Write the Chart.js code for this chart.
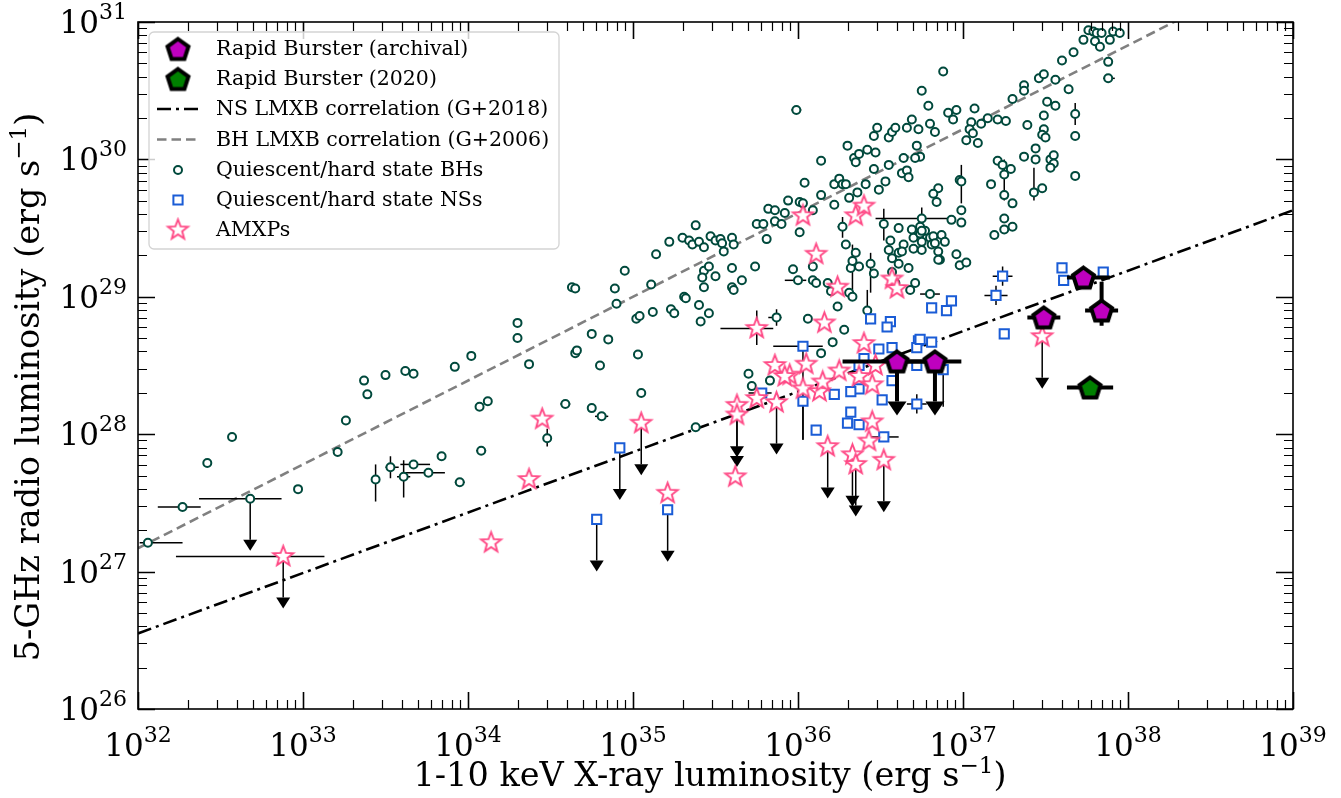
<!DOCTYPE html>
<html>
<head>
<meta charset="utf-8">
<script src="https://cdn.jsdelivr.net/npm/chart.js@4.4.1/dist/chart.umd.min.js"></script>
<style>
  html, body { margin: 0; padding: 0; background: #fff; }
  #wrap { width: 1341px; height: 798px; position: relative; }
</style>
</head>
<body>
<div id="wrap"><canvas id="chart"></canvas></div>
<script>
// values are log10 of luminosity: [log Lx, log Lr]
const bhPoints = [
  [32.42,27.79],[32.57,27.98],[32.97,27.60],[33.21,27.87],[33.26,28.10],[33.37,28.39],[33.39,28.29],[33.50,28.43],[33.62,28.46],[33.67,28.44],[33.84,27.84],[33.92,28.49],[34.02,28.57],[34.12,28.24],[34.30,28.81],[34.30,28.70],[34.37,28.51],[34.63,29.07],[34.65,29.06],[34.65,28.59],[34.66,28.61],
  [34.75,28.73],[34.85,28.69],[34.89,29.06],[34.90,28.95],[34.95,29.19],[35.02,28.84],[35.04,28.86],[35.11,29.09],[35.12,28.89],[35.14,29.31],[35.22,29.40],[35.23,28.91],[35.25,28.88],[35.30,29.43],[35.31,29.00],[35.32,28.99],[35.34,29.41],[35.36,29.38],[35.38,29.52],[35.40,28.94],[35.40,29.40],[35.41,28.82],[35.43,29.36],[35.43,29.19],[35.42,29.14],[35.43,29.07],[35.46,29.22],[35.46,28.88],[35.47,29.44],[35.50,29.15],[35.50,29.41],[35.53,29.42],[35.54,29.39],[35.55,29.33],[35.60,29.43],[35.61,29.38],[35.60,29.21],[35.60,29.07],[35.61,29.05],[35.66,29.12],[35.74,29.22],[35.75,29.53],[35.79,29.53],[35.81,29.42],[35.82,29.64],[35.86,29.63],[35.86,29.55],[35.92,29.61],[35.90,29.53],
  [35.03,28.58],[34.80,28.50],[34.75,28.19],[35.70,28.44],[35.72,28.35],[35.83,28.39],[36.06,28.84],[36.14,28.59],[36.21,28.67],[36.28,28.76],[36.24,28.93],
  [35.94,29.70],[36.01,29.69],[36.03,29.68],[36.09,29.63],[36.22,29.67],[36.01,29.47],[36.04,29.83],[36.14,29.74],[36.14,29.99],[36.22,29.82],[36.25,29.86],[36.27,29.82],[36.29,29.82],[36.31,29.72],[36.36,29.76],[36.41,29.82],[36.49,29.78],[36.53,29.84],
  [36.30,30.10],[36.34,30.01],[36.37,30.04],[36.42,30.07],[36.47,30.05],[36.35,29.98],[36.46,29.93],[36.55,29.96],[36.48,30.23],[36.46,30.17],[36.55,30.16],[36.57,30.20],[36.59,30.23],[36.64,30.01],[36.72,30.10],[36.74,30.02],[36.71,30.01],[36.63,29.90],[36.66,29.92],[36.67,29.87],
  [36.66,30.23],[36.69,30.29],[36.73,30.22],[36.75,30.50],[36.79,30.39],[36.80,30.26],[36.83,30.20],[36.88,30.64],[36.91,30.34],[36.94,30.29],[36.96,30.36],
  [36.85,29.79],[36.82,29.75],[36.84,29.69],[36.98,29.85],[36.93,29.56],[36.99,29.63],[36.99,29.54],
  [37.07,30.37],[37.05,30.27],[37.04,30.22],[37.06,30.19],[37.02,30.14],[37.09,30.12],[37.11,30.26],[37.15,30.30],[37.21,30.29],[37.26,30.28],[37.30,30.44],[37.37,30.54],[37.37,30.50],[37.46,30.59],[37.49,30.62],[37.56,30.58],[37.60,30.72],[37.67,30.78],[37.64,30.51],[37.73,30.87],[37.76,30.94],[37.79,30.93],[37.81,30.92],[37.84,30.92],[37.80,30.86],[37.83,30.82],[37.89,30.87],[37.91,30.93],[37.95,30.92],[37.88,30.71],
  [37.39,30.25],[37.51,30.42],[37.56,30.39],[37.49,30.32],[37.49,30.22],[37.48,30.18],[37.50,30.16],[37.44,30.08],[37.44,30.00],[37.37,30.02],[37.48,29.79],[37.53,30.00],[37.55,30.03],[37.55,29.97],[37.53,29.94],[37.68,30.17],[37.68,29.88],
  [37.21,29.99],[37.24,29.96],[37.29,29.93],[37.17,29.82],[37.25,29.74],[37.30,29.68],[37.25,29.57],[37.25,29.49],[37.30,29.51],[37.19,29.45],
  [36.29,29.38],[36.35,29.32],[36.32,29.21],[36.37,29.22],[35.97,29.20],[36.09,29.22],[36.09,29.12],[36.11,29.10],[36.18,29.10],[36.20,29.04],[36.31,29.03],[36.33,29.00],
  [36.56,29.41],[36.55,29.34],[36.57,29.28],[36.57,29.18],[36.61,29.32],[36.61,29.50],[36.61,29.24],[36.64,29.38],[36.63,29.33],[36.69,29.49],[36.70,29.43],[36.70,29.35],[36.67,29.21],[36.71,29.10],[36.68,29.05],[36.74,29.51],[36.74,29.46],[36.75,29.40],[36.75,29.34],[36.77,29.48],[36.80,29.43],[36.81,29.38],[36.82,29.44],[36.83,29.39],[36.85,29.33],[36.86,29.27],[36.87,29.45],[36.89,29.40],[36.85,29.27],[36.98,29.23],[36.96,29.31],[37.02,29.25],[36.46,29.17],[36.59,29.10]
];
// with error bars: [log Lx, log Lr, xlo, xhi, ylo, yhi, upper limit]
const bhErrPoints = [
  [32.06,27.21, 32.01,32.27, null,null, 0],
  [32.27,27.47, 32.12,32.38, null,null, 0],
  [32.68,27.53, 32.37,32.87, null,null, 1],
  [33.44,27.67, null,null, 27.51,27.78, 0],
  [33.53,27.76, 33.50,33.58, 27.68,27.84, 0],
  [33.61,27.69, 33.57,33.65, 27.54,27.81, 0],
  [33.67,27.78, 33.59,33.77, null,null, 0],
  [33.76,27.72, 33.62,33.86, null,null, 0],
  [33.95,27.65, 33.92,33.98, null,null, 0],
  [34.08,27.88, 34.05,34.11, null,null, 0],
  [34.07,28.20, 34.05,34.09, null,null, 0],
  [34.48,27.97, null,null, 27.91,28.04, 0],
  [34.59,28.22, 34.56,34.62, null,null, 0],
  [34.81,28.13, 34.77,34.85, null,null, 0],
  [35.05,28.30, 35.03,35.07, null,null, 0],
  [35.38,28.05, 35.36,35.40, null,null, 0],
  [35.99,30.36, 35.96,36.02, null,null, 0],
  [35.87,28.85, 35.82,35.90, 28.79,28.91, 0],
  [36.00,29.12, 35.92,36.05, null,null, 0],
  [36.27,29.51, 36.24,36.29, 29.43,29.58, 0],
  [36.52,29.53, null,null, 29.41,29.64, 0],
  [36.75,29.48, null,null, 29.41,29.65, 0],
  [36.75,29.57, 36.47,36.95, null,null, 0],
  [36.99,29.84, null,null, 29.68,29.96, 0],
  [37.43,29.76, null,null, 29.70,29.94, 0],
  [37.25,29.89, null,null, 29.70,30.00, 0],
  [37.68,30.33, null,null, 30.25,30.41, 0],
  [37.88,30.59, 37.85,37.92, null,null, 0],
  [36.33,29.26, null,null, 29.05,29.38, 0],
  [36.44,29.24, null,null, 29.03,29.32, 0],
  [36.42,28.90, null,null, 28.80,29.05, 0],
  [36.80,29.02, 36.74,36.86, null,null, 0]
];
const nsPoints = [
  [36.81,28.92],[36.90,28.90],[36.93,28.97],[36.44,28.84],[36.56,28.82],[36.54,28.78],[36.73,28.68],[36.81,28.67],[36.72,28.63],[36.49,28.62],[36.57,28.63],[36.40,28.55],[36.37,28.50],[36.72,28.50],[36.57,28.39],[36.37,28.33],[36.32,28.31],[36.22,28.29],[36.51,28.25],[36.32,28.16],[36.30,28.08],[36.37,28.07],[36.11,28.03],[37.60,29.21],[37.61,29.12],[37.85,29.18],[37.25,28.73],[36.74,28.69]
];
const nsErrPoints = [
  [36.03,28.64, 35.85,36.15, 27.96,28.64, 0],
  [36.03,28.24, null,null, 27.96,28.24, 0],
  [35.78,28.30, 35.70,35.84, null,null, 0],
  [36.52,27.98, 36.44,36.61, null,null, 0],
  [36.72,28.22, 36.66,36.78, 28.15,28.29, 0],
  [37.24,29.15, 37.18,37.30, 29.08,29.22, 0],
  [37.20,29.01, 37.13,37.27, 28.94,29.08, 0],
  [36.88,28.47, null,null, 28.20,28.47, 0],
  [34.92,27.90, null,null, null,null, 1],
  [34.78,27.38, null,null, null,null, 1],
  [35.21,27.45, null,null, null,null, 1]
];
const amxpPoints = [
  [34.14,27.21],[34.37,27.67],[34.45,28.11],[35.21,27.57],[35.62,27.69],[35.75,28.26],[35.86,28.50],[35.95,28.43],[36.05,28.51],[36.03,28.33],[36.13,28.31],[36.15,28.38],[36.25,28.46],[36.37,28.42],[36.45,28.36],[36.40,28.66],[36.16,28.81],[36.11,29.31],[36.24,29.07],[36.57,29.13],[36.60,29.06],[36.03,29.59],[36.35,29.59],[36.40,29.66],[36.45,28.09],[36.43,27.95],[36.47,28.50],[35.92,28.42]
];
const amxpErrPoints = [
  [32.88,27.11, 32.23,33.13, null,null, 1],
  [35.05,28.08, null,null, null,null, 1],
  [35.63,28.21, null,null, null,null, 1],
  [35.63,28.14, null,null, null,null, 1],
  [35.87,28.23, null,null, null,null, 1],
  [35.75,28.77, 35.53,35.85, 28.65,28.90, 0],
  [36.18,27.91, null,null, null,null, 1],
  [36.33,27.85, null,null, null,null, 1],
  [36.35,27.78, null,null, null,null, 1],
  [36.52,27.81, null,null, null,null, 1],
  [37.48,28.71, null,null, null,null, 1]
];
const rbArchival = [
  [36.60,28.53, 36.27,36.85, null,null, 1],
  [36.83,28.53, 36.60,36.99, null,null, 1],
  [37.49,28.85, 37.39,37.59, null,null, 0],
  [37.73,29.14, 37.63,37.89, null,null, 0],
  [37.84,28.90, 37.74,37.94, 28.79,29.11, 0]
];
const rb2020 = [
  [37.77,28.34, 37.63,37.91, null,null, 0]
];
// correlation lines, endpoints at the axis limits
const nsCorr = [[32, 26.55], [39, 29.63]];
const bhCorr = [[32, 27.17], [39, 31.44]];
const xDecades = [32, 33, 34, 35, 36, 37, 38, 39];
const yDecades = [26, 27, 28, 29, 30, 31];

const legendLabels = [
  'Rapid Burster (archival)', 'Rapid Burster (2020)',
  'NS LMXB correlation (G+2018)', 'BH LMXB correlation (G+2006)',
  'Quiescent/hard state BHs', 'Quiescent/hard state NSs', 'AMXPs'
];

const BH_COLOR = '#00493c';
const NS_COLOR = '#1a5cd6';
const AMXP_COLOR = '#ff4a86';
const SERIF = '"DejaVu Serif", "Liberation Serif", serif';

function toPt(p) {
  const o = { x: Math.pow(10, p[0]), y: Math.pow(10, p[1]) };
  if (p.length > 2) {
    o.xlo = p[2] != null ? Math.pow(10, p[2]) : null;
    o.xhi = p[3] != null ? Math.pow(10, p[3]) : null;
    o.ylo = p[4] != null ? Math.pow(10, p[4]) : null;
    o.yhi = p[5] != null ? Math.pow(10, p[5]) : null;
    o.ul = !!p[6];
  }
  return o;
}

function makeStar(R, r, stroke, lw) {
  const c = document.createElement('canvas');
  const s = Math.ceil(2 * (R + lw)) + 2;
  c.width = s; c.height = s;
  const g = c.getContext('2d');
  g.translate(s / 2, s / 2);
  g.beginPath();
  for (let i = 0; i < 10; i++) {
    const rad = i % 2 === 0 ? R : r;
    const a = -Math.PI / 2 + i * Math.PI / 5;
    g.lineTo(rad * Math.cos(a), rad * Math.sin(a));
  }
  g.closePath();
  g.fillStyle = '#fff';
  g.fill();
  g.lineJoin = 'miter';
  g.lineWidth = lw;
  g.strokeStyle = stroke;
  g.stroke();
  return c;
}

function makePentagon(R, fill, lw) {
  const c = document.createElement('canvas');
  const s = Math.ceil(2 * (R + lw * 1.6)) + 2;
  c.width = s; c.height = s;
  const g = c.getContext('2d');
  g.translate(s / 2, s / 2 + 1);
  g.beginPath();
  for (let i = 0; i < 5; i++) {
    const a = -Math.PI / 2 + i * 2 * Math.PI / 5;
    g.lineTo(R * Math.cos(a), R * Math.sin(a));
  }
  g.closePath();
  g.fillStyle = fill;
  g.fill();
  g.lineJoin = 'miter';
  g.lineWidth = lw;
  g.strokeStyle = '#000';
  g.stroke();
  return c;
}

const starImg = makeStar(10.5, 4.4, AMXP_COLOR, 1.9);
const pentMag = makePentagon(11, '#bf00bf', 4);
const pentGreen = makePentagon(11, '#008000', 4);

// error bars and upper-limit arrows, drawn just under each dataset's markers
const errorBarPlugin = {
  id: 'errorBars',
  beforeDatasetDraw(chart, args) {
    const ds = chart.data.datasets[args.index];
    if (!ds.err) return;
    const { ctx, chartArea: a } = chart;
    const xs = chart.scales.x, ys = chart.scales.y;
    const st = ds.err;
    ctx.save();
    ctx.beginPath();
    ctx.rect(a.left, a.top, a.right - a.left, a.bottom - a.top);
    ctx.clip();
    ctx.strokeStyle = '#000';
    ctx.fillStyle = '#000';
    ctx.lineWidth = st.lw;
    ctx.lineCap = 'butt';
    for (const p of ds.data) {
      if (p.xlo == null && p.ylo == null && !p.ul) continue;
      const px = xs.getPixelForValue(p.x), py = ys.getPixelForValue(p.y);
      ctx.beginPath();
      if (p.xlo != null) {
        ctx.moveTo(xs.getPixelForValue(p.xlo), py);
        ctx.lineTo(xs.getPixelForValue(p.xhi), py);
      }
      if (p.ylo != null) {
        ctx.moveTo(px, ys.getPixelForValue(p.ylo));
        ctx.lineTo(px, ys.getPixelForValue(p.yhi));
      }
      if (p.ul) {
        ctx.moveTo(px, py);
        ctx.lineTo(px, py + st.arrow - st.headH);
      }
      ctx.stroke();
      if (p.ul) {
        const tip = py + st.arrow;
        ctx.beginPath();
        ctx.moveTo(px - st.headW / 2, tip - st.headH);
        ctx.lineTo(px + st.headW / 2, tip - st.headH);
        ctx.lineTo(px, tip);
        ctx.closePath();
        ctx.fill();
      }
    }
    ctx.restore();
  }
};

function drawPow(ctx, exp, x, base, align, big, small, raise) {
  ctx.font = big + 'px ' + SERIF;
  const w1 = ctx.measureText('10').width;
  ctx.font = small + 'px ' + SERIF;
  const w2 = ctx.measureText(String(exp)).width;
  const left = align === 'center' ? x - (w1 + w2) / 2 : x - (w1 + w2);
  ctx.textAlign = 'left';
  ctx.textBaseline = 'alphabetic';
  ctx.font = big + 'px ' + SERIF;
  ctx.fillText('10', left, base);
  ctx.font = small + 'px ' + SERIF;
  ctx.fillText(String(exp), left + w1, base - raise);
}

function drawLabel(ctx, main, sup, tail, cx, base, big, small, raise) {
  ctx.font = big + 'px ' + SERIF;
  const w1 = ctx.measureText(main).width;
  const w3 = ctx.measureText(tail).width;
  ctx.font = small + 'px ' + SERIF;
  const w2 = ctx.measureText(sup).width;
  let x = cx - (w1 + w2 + w3) / 2;
  ctx.textAlign = 'left';
  ctx.textBaseline = 'alphabetic';
  ctx.font = big + 'px ' + SERIF;
  ctx.fillText(main, x, base);
  x += w1;
  ctx.font = small + 'px ' + SERIF;
  ctx.fillText(sup, x, base - raise);
  x += w2;
  ctx.font = big + 'px ' + SERIF;
  ctx.fillText(tail, x, base);
}

const frameAndLegendPlugin = {
  id: 'frameAndLegend',
  afterDraw(chart) {
    const { ctx, chartArea: a } = chart;
    const xs = chart.scales.x, ys = chart.scales.y;
    ctx.save();
    ctx.fillStyle = '#000';
    ctx.strokeStyle = '#000';

    // ticks on all four sides, pointing inward
    const ticks = (vals, isMajor) => {
      ctx.lineWidth = isMajor ? 1.6 : 1.2;
      const len = isMajor ? 17 : 9;
      ctx.beginPath();
      for (const v of vals.x) {
        const px = Math.round(xs.getPixelForValue(v)) + 0.5;
        ctx.moveTo(px, a.bottom); ctx.lineTo(px, a.bottom - len);
        ctx.moveTo(px, a.top); ctx.lineTo(px, a.top + len);
      }
      for (const v of vals.y) {
        const py = Math.round(ys.getPixelForValue(v)) + 0.5;
        ctx.moveTo(a.left, py); ctx.lineTo(a.left + len, py);
        ctx.moveTo(a.right, py); ctx.lineTo(a.right - len, py);
      }
      ctx.stroke();
    };
    const minorX = [], minorY = [];
    xDecades.slice(0, -1).forEach(d => { for (let k = 2; k < 10; k++) minorX.push(k * Math.pow(10, d)); });
    yDecades.slice(0, -1).forEach(d => { for (let k = 2; k < 10; k++) minorY.push(k * Math.pow(10, d)); });
    ticks({ x: minorX, y: minorY }, false);
    ticks({ x: xDecades.map(d => Math.pow(10, d)), y: yDecades.map(d => Math.pow(10, d)) }, true);

    // frame
    ctx.lineWidth = 1.6;
    ctx.strokeRect(a.left, a.top, a.right - a.left, a.bottom - a.top);

    // tick labels
    xDecades.forEach(d => {
      drawPow(ctx, d, xs.getPixelForValue(Math.pow(10, d)), a.bottom + 47, 'center', 31, 22, 14);
    });
    yDecades.forEach(d => {
      drawPow(ctx, d, a.left - 11, ys.getPixelForValue(Math.pow(10, d)) + 11, 'right', 31, 22, 14);
    });

    // axis titles
    drawLabel(ctx, '1-10 keV X-ray luminosity (erg s', '\u22121', ')', 710, 786, 33.5, 23, 13);
    ctx.save();
    ctx.translate(39, 387);
    ctx.rotate(-Math.PI / 2);
    drawLabel(ctx, '5-GHz radio luminosity (erg s', '\u22121', ')', 0, 0, 33.5, 23, 13);
    ctx.restore();

    // legend
    const lx = 149, ly = 32, lw = 410, lh = 217;
    ctx.beginPath();
    ctx.roundRect(lx, ly, lw, lh, 5);
    ctx.fillStyle = 'rgba(255,255,255,0.8)';
    ctx.fill();
    ctx.lineWidth = 1.3;
    ctx.strokeStyle = '#d3d3d3';
    ctx.stroke();
    const rows = [49, 79, 109, 139.5, 170, 200, 230];
    const mx = 178, tx = 216;
    ctx.drawImage(pentMag, mx - pentMag.width / 2, rows[0] - pentMag.height / 2);
    ctx.drawImage(pentGreen, mx - pentGreen.width / 2, rows[1] - pentGreen.height / 2);
    ctx.lineWidth = 2.6;
    ctx.strokeStyle = '#000';
    ctx.setLineDash([14, 5, 3, 5]);
    ctx.beginPath(); ctx.moveTo(157, rows[2]); ctx.lineTo(199, rows[2]); ctx.stroke();
    ctx.strokeStyle = '#808080';
    ctx.setLineDash([9.5, 5]);
    ctx.beginPath(); ctx.moveTo(157, rows[3]); ctx.lineTo(199, rows[3]); ctx.stroke();
    ctx.setLineDash([]);
    ctx.lineWidth = 2;
    ctx.strokeStyle = BH_COLOR;
    ctx.fillStyle = '#fff';
    ctx.beginPath(); ctx.arc(mx, rows[4], 4, 0, Math.PI * 2); ctx.fill(); ctx.stroke();
    ctx.strokeStyle = NS_COLOR;
    ctx.beginPath(); ctx.rect(mx - 4.6, rows[5] - 4.6, 9.2, 9.2); ctx.fill(); ctx.stroke();
    ctx.drawImage(starImg, mx - starImg.width / 2, rows[6] - starImg.height / 2);
    ctx.fillStyle = '#000';
    ctx.font = '20.5px ' + SERIF;
    ctx.textAlign = 'left';
    ctx.textBaseline = 'middle';
    legendLabels.forEach((t, i) => ctx.fillText(t, tx, rows[i] + 1));
    ctx.restore();
  }
};

const thinErr = { lw: 1.5, arrow: 52, headW: 14, headH: 11 };
const thickErr = { lw: 4, arrow: 54, headW: 19, headH: 14 };

new Chart(document.getElementById('chart'), {
  type: 'scatter',
  data: {
    datasets: [
      {
        label: legendLabels[0], data: rbArchival.map(toPt), err: thickErr,
        pointStyle: pentMag, order: 0
      },
      {
        label: legendLabels[1], data: rb2020.map(toPt), err: thickErr,
        pointStyle: pentGreen, order: 0
      },
      {
        label: legendLabels[6], data: amxpPoints.concat(amxpErrPoints).map(toPt), err: thinErr,
        pointStyle: starImg, order: 1
      },
      {
        label: legendLabels[5], data: nsPoints.concat(nsErrPoints).map(toPt), err: thinErr,
        pointStyle: 'rect', pointRadius: 6.5, borderWidth: 2,
        borderColor: NS_COLOR, backgroundColor: '#fff', order: 2
      },
      {
        label: legendLabels[4], data: bhPoints.concat(bhErrPoints).map(toPt), err: thinErr,
        pointStyle: 'circle', pointRadius: 4, borderWidth: 2,
        borderColor: BH_COLOR, backgroundColor: '#fff', order: 3
      },
      {
        type: 'line', label: legendLabels[2], data: nsCorr.map(toPt),
        borderColor: '#000', borderWidth: 2.6, borderDash: [14, 5, 3, 5],
        pointRadius: 0, order: 4
      },
      {
        type: 'line', label: legendLabels[3], data: bhCorr.map(toPt),
        borderColor: '#808080', borderWidth: 2.6, borderDash: [9.5, 5],
        pointRadius: 0, order: 4
      }
    ]
  },
  options: {
    responsive: true,
    maintainAspectRatio: false,
    animation: false,
    events: [],
    layout: { padding: { left: 138, top: 22, right: 48, bottom: 89 } },
    scales: {
      x: { type: 'logarithmic', min: 1e32, max: 1e39, display: false },
      y: { type: 'logarithmic', min: 1e26, max: 1e31, display: false }
    },
    plugins: {
      legend: { display: false },
      tooltip: { enabled: false }
    }
  },
  plugins: [errorBarPlugin, frameAndLegendPlugin]
});
</script>
</body>
</html>
